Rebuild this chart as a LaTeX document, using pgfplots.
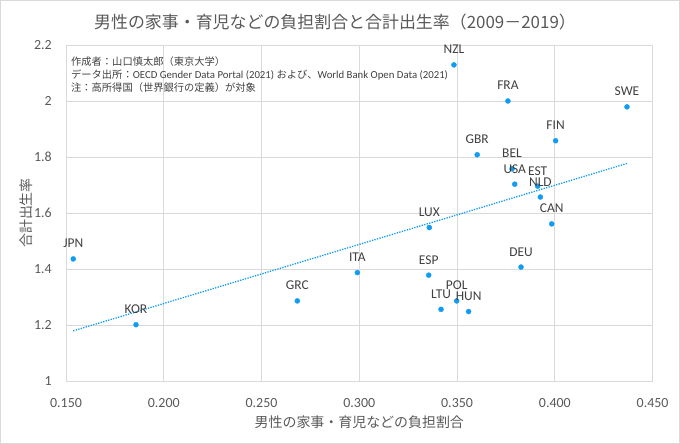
\documentclass[border=0pt]{standalone}
\usepackage{fontspec}
\setmainfont{Carlito}
\newfontfamily\jp{Noto Sans CJK JP}
\usepackage{pgfplots}
\usepackage{pgfplotstable}
\pgfplotsset{compat=1.18}
\definecolor{dotblue}{RGB}{16,156,242}
\definecolor{txt}{RGB}{89,89,89}
\definecolor{lab}{RGB}{64,64,64}
\definecolor{gridc}{RGB}{217,217,217}
\pgfplotstableread{
x y label
0.1537 1.436 JPN
0.1858 1.201 KOR
0.2683 1.286 GRC
0.2990 1.387 ITA
0.3358 1.548 LUX
0.3355 1.378 ESP
0.3418 1.256 LTU
0.3498 1.286 POL
0.3559 1.248 HUN
0.3484 2.129 NZL
0.3760 2.000 FRA
0.3603 1.808 GBR
0.3781 1.758 BEL
0.3795 1.703 USA
0.3912 1.696 EST
0.3926 1.657 NLD
0.3984 1.561 CAN
0.3827 1.407 DEU
0.4004 1.858 FIN
0.4369 1.979 SWE
}\countries
\pgfplotstableread{
x y
0.1537 1.179
0.4369 1.777
}\trend
\begin{document}
\begin{tikzpicture}
\useasboundingbox (0,0) rectangle (680bp,444bp);
\draw[gridc, line width=0.75bp] (0.4bp,0.4bp) rectangle (679.6bp,443.6bp);
\node[text=txt, font=\jp\fontsize{17}{20}\selectfont] at (335bp,422bp) {男性の家事・育児などの負担割合と合計出生率（2009－2019）};
\begin{axis}[
  at={(66bp,63bp)}, anchor=south west,
  scale only axis, width=586.6bp, height=336bp,
  xmin=0.15, xmax=0.45, ymin=1, ymax=2.2,
  xtick={0.15,0.2,0.25,0.3,0.35,0.4,0.45},
  ytick={1,1.2,1.4,1.6,1.8,2,2.2},
  x tick label style={/pgf/number format/fixed, /pgf/number format/fixed zerofill, /pgf/number format/precision=3},
  /pgf/number format/assume math mode=true,
  tick label style={font=\fontsize{14}{16}\selectfont, text=txt},
  xticklabel style={anchor=center, yshift=-22bp},
  yticklabel style={anchor=east, inner sep=0pt, xshift=-14bp},
  axis line style={gridc},
  grid=major, grid style={gridc, line width=0.75bp},
  major tick length=0pt, tick style={draw=none},
  xlabel={男性の家事・育児などの負担割合},
  xlabel style={font=\jp\fontsize{14}{16}\selectfont, text=txt, at={(axis description cs:0.5,-0.122)}, anchor=center},
  ylabel={合計出生率},
  ylabel style={font=\jp\fontsize{14}{16}\selectfont, text=txt, at={(axis description cs:-0.068,0.5)}, anchor=center},
  clip=false,
]
\addplot[dotblue, line width=1.3bp, dash pattern=on 1.3bp off 1.3bp] table[x=x,y=y] {\trend};
\addplot[only marks, color=dotblue, mark=*, mark size=2.5bp, mark options={solid, fill=dotblue, draw=dotblue},
  nodes near coords, point meta=explicit symbolic,
  every node near coord/.append style={font=\fontsize{13.5}{15}\selectfont, text=lab, anchor=base, inner sep=0pt, yshift=11bp}]
  table[x=x, y=y, meta=label] {\countries};
\end{axis}
\node[anchor=base west, text=lab, font=\jp\fontsize{10.3}{12}\selectfont, inner sep=0pt] at (71bp,378.3bp) {作成者：山口慎太郎（東京大学）};
\node[anchor=base west, text=lab, font=\fontsize{10.8}{12}\selectfont, inner sep=0pt] at (71bp,365.3bp) {{\jp\fontsize{10.3}{12}\selectfont データ出所：}OECD Gender Data Portal (2021) {\jp\fontsize{10.3}{12}\selectfont および、}World Bank Open Data (2021)};
\node[anchor=base west, text=lab, font=\jp\fontsize{10.3}{12}\selectfont, inner sep=0pt] at (71bp,352.3bp) {注：高所得国（世界銀行の定義）が対象};
\end{tikzpicture}
\end{document}
